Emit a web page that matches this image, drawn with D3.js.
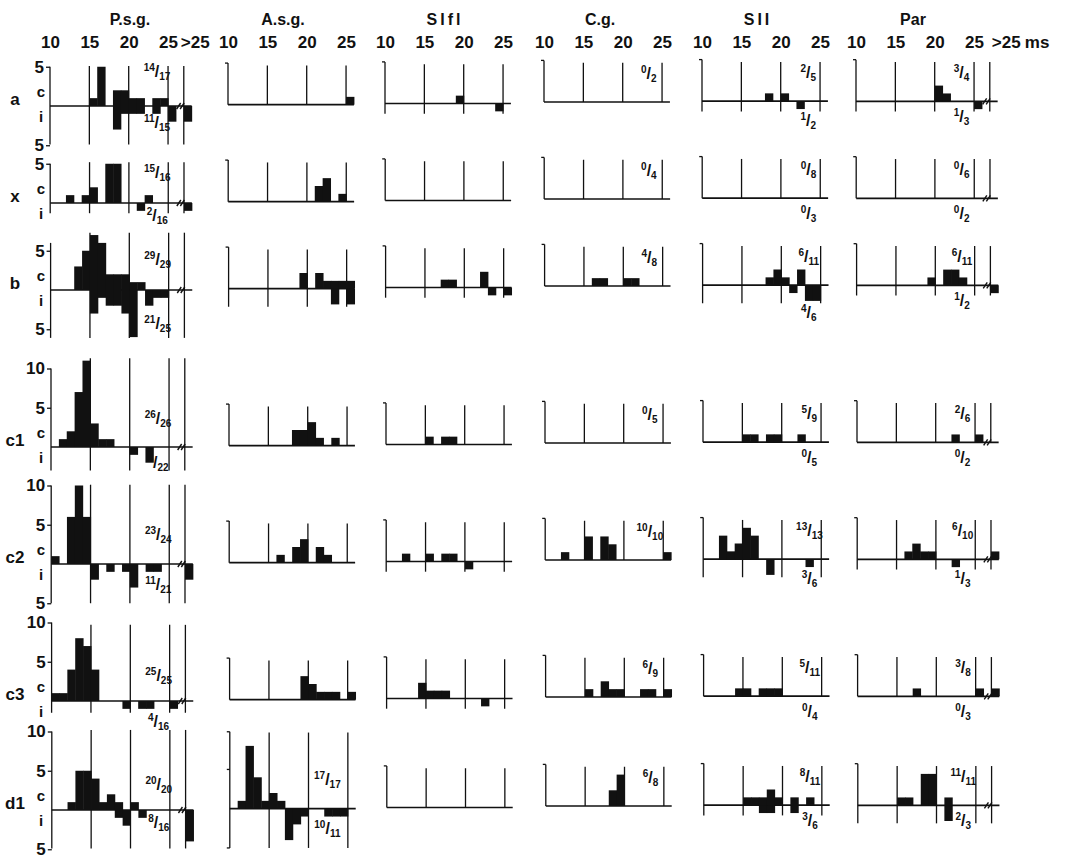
<!DOCTYPE html>
<html>
<head>
<meta charset="utf-8">
<script src="https://cdn.jsdelivr.net/npm/d3@7"></script>
<style>
  body { margin: 0; background: #fff; }
  svg { display: block; font-family: "Liberation Sans", Arial, sans-serif; }
</style>
</head>
<body>
<div id="chart"></div>
<script>
// columns and rows of the figure
const columns = ["P.s.g.", "A.s.g.", "SIfl", "C.g.", "SII", "Par"];
const rows = ["a", "x", "b", "c1", "c2", "c3", "d1"];
// bins: 10..25 ms (1 ms wide) and the >25 bin
const binLabels = ["10","11","12","13","14","15","16","17","18","19","20","21","22","23","24","25",">25"];
const headerTicks = [10, 15, 20, 25];

// P.s.g. y tick labels (c above, i below)
const psgUp = [[5], [5], [5], [10, 5], [10, 5], [10, 5], [10, 5]];
const psgDown = [[5], [], [5], [], [5], [], [5]];

// counts, one array per column: P.s.g., A.s.g., SIfl, C.g., SII, Par
const a_c = [
  [0,0,0,0,0,1,5,0,2,2,1,1,0,1,1,0,0],
  [0,0,0,0,0,0,0,0,0,0,0,0,0,0,0,1,0],
  [0,0,0,0,0,0,0,0,0,1,0,0,0,0,0,0,0],
  [0,0,0,0,0,0,0,0,0,0,0,0,0,0,0,0,0],
  [0,0,0,0,0,0,0,0,1,0,1,0,0,0,0,0,0],
  [0,0,0,0,0,0,0,0,0,0,2,1,0,0,0,0,0]
];
const a_i = [
  [0,0,0,0,0,0,0,0,3,1,1,1,0,1,0,2,2],
  [0,0,0,0,0,0,0,0,0,0,0,0,0,0,0,0,0],
  [0,0,0,0,0,0,0,0,0,0,0,0,0,0,1,0,0],
  [0,0,0,0,0,0,0,0,0,0,0,0,0,0,0,0,0],
  [0,0,0,0,0,0,0,0,0,0,0,0,1,0,0,0,0],
  [0,0,0,0,0,0,0,0,0,0,0,0,0,0,0,1,0]
];
const x_c = [
  [0,0,1,0,1,2,0,5,5,0,0,0,1,0,0,0,0],
  [0,0,0,0,0,0,0,0,0,0,0,2,3,0,1,0,0],
  [0,0,0,0,0,0,0,0,0,0,0,0,0,0,0,0,0],
  [0,0,0,0,0,0,0,0,0,0,0,0,0,0,0,0,0],
  [0,0,0,0,0,0,0,0,0,0,0,0,0,0,0,0,0],
  [0,0,0,0,0,0,0,0,0,0,0,0,0,0,0,0,0]
];
const x_i = [
  [0,0,0,0,0,0,0,0,0,0,0,1,0,0,0,0,1],
  [0,0,0,0,0,0,0,0,0,0,0,0,0,0,0,0,0],
  [0,0,0,0,0,0,0,0,0,0,0,0,0,0,0,0,0],
  [0,0,0,0,0,0,0,0,0,0,0,0,0,0,0,0,0],
  [0,0,0,0,0,0,0,0,0,0,0,0,0,0,0,0,0],
  [0,0,0,0,0,0,0,0,0,0,0,0,0,0,0,0,0]
];
const b_c = [
  [0,0,0,3,5,7,6,2,2,2,1,1,0,0,0,0,0],
  [0,0,0,0,0,0,0,0,0,2,0,2,1,1,1,1,0],
  [0,0,0,0,0,0,0,1,1,0,0,0,2,0,0,0,0],
  [0,0,0,0,0,0,1,1,0,0,1,1,0,0,0,0,0],
  [0,0,0,0,0,0,0,0,1,2,1,0,2,0,0,0,0],
  [0,0,0,0,0,0,0,0,0,1,0,2,2,1,0,0,0]
];
const b_i = [
  [0,0,0,0,0,3,1,2,2,3,6,0,2,1,1,0,0],
  [0,0,0,0,0,0,0,0,0,0,0,0,0,2,0,2,0],
  [0,0,0,0,0,0,0,0,0,0,0,0,0,1,0,1,0],
  [0,0,0,0,0,0,0,0,0,0,0,0,0,0,0,0,0],
  [0,0,0,0,0,0,0,0,0,0,0,1,0,2,2,0,0],
  [0,0,0,0,0,0,0,0,0,0,0,0,0,0,0,0,1]
];
const c1_c = [
  [0,1,2,7,11,3,1,1,0,0,0,0,0,0,0,0,0],
  [0,0,0,0,0,0,0,0,2,2,3,1,0,1,0,0,0],
  [0,0,0,0,0,1,0,1,1,0,0,0,0,0,0,0,0],
  [0,0,0,0,0,0,0,0,0,0,0,0,0,0,0,0,0],
  [0,0,0,0,0,1,1,0,1,1,0,0,1,0,0,0,0],
  [0,0,0,0,0,0,0,0,0,0,0,0,1,0,0,1,0]
];
const c1_i = [
  [0,0,0,0,0,0,0,0,0,0,1,0,2,0,0,0,0],
  [0,0,0,0,0,0,0,0,0,0,0,0,0,0,0,0,0],
  [0,0,0,0,0,0,0,0,0,0,0,0,0,0,0,0,0],
  [0,0,0,0,0,0,0,0,0,0,0,0,0,0,0,0,0],
  [0,0,0,0,0,0,0,0,0,0,0,0,0,0,0,0,0],
  [0,0,0,0,0,0,0,0,0,0,0,0,0,0,0,0,0]
];
const c2_c = [
  [1,0,6,10,6,0,0,0,0,0,0,0,0,0,0,0,0],
  [0,0,0,0,0,0,1,0,2,3,0,2,1,0,0,0,0],
  [0,0,1,0,0,1,0,1,1,0,0,0,0,0,0,0,0],
  [0,0,1,0,0,3,0,3,2,0,0,0,0,0,0,1,0],
  [0,0,3,1,2,4,3,0,0,0,0,0,0,0,0,0,0],
  [0,0,0,0,0,0,1,2,1,1,0,0,0,0,0,0,1]
];
const c2_i = [
  [0,0,0,0,0,2,0,1,0,1,3,0,1,1,0,0,2],
  [0,0,0,0,0,0,0,0,0,0,0,0,0,0,0,0,0],
  [0,0,0,0,0,0,0,0,0,0,1,0,0,0,0,0,0],
  [0,0,0,0,0,0,0,0,0,0,0,0,0,0,0,0,0],
  [0,0,0,0,0,0,0,0,2,0,0,0,0,1,0,0,0],
  [0,0,0,0,0,0,0,0,0,0,0,0,1,0,0,0,0]
];
const c3_c = [
  [1,1,4,8,7,4,0,0,0,0,0,0,0,0,0,0,0],
  [0,0,0,0,0,0,0,0,0,3,2,1,1,1,0,1,0],
  [0,0,0,0,2,1,1,1,0,0,0,0,0,0,0,0,0],
  [0,0,0,0,0,1,0,2,1,1,0,0,1,1,0,1,0],
  [0,0,0,0,1,1,0,1,1,1,0,0,0,0,0,0,0],
  [0,0,0,0,0,0,0,1,0,0,0,0,0,0,0,1,1]
];
const c3_i = [
  [0,0,0,0,0,0,0,0,0,1,0,1,1,0,0,1,0],
  [0,0,0,0,0,0,0,0,0,0,0,0,0,0,0,0,0],
  [0,0,0,0,0,0,0,0,0,0,0,0,1,0,0,0,0],
  [0,0,0,0,0,0,0,0,0,0,0,0,0,0,0,0,0],
  [0,0,0,0,0,0,0,0,0,0,0,0,0,0,0,0,0],
  [0,0,0,0,0,0,0,0,0,0,0,0,0,0,0,0,0]
];
const d1_c = [
  [0,0,1,5,5,4,1,2,1,0,1,0,0,0,0,0,0],
  [0,1,8,4,1,2,1,0,0,0,0,0,0,0,0,0,0],
  [0,0,0,0,0,0,0,0,0,0,0,0,0,0,0,0,0],
  [0,0,0,0,0,0,0,0,2,4,0,0,0,0,0,0,0],
  [0,0,0,0,0,1,1,1,2,1,0,1,0,1,0,0,0],
  [0,0,0,0,0,1,1,0,4,4,0,1,0,0,0,0,0]
];
const d1_i = [
  [0,0,0,0,0,0,0,0,1,2,0,1,0,0,0,0,4],
  [0,0,0,0,0,0,0,4,2,1,0,0,1,1,1,0,0],
  [0,0,0,0,0,0,0,0,0,0,0,0,0,0,0,0,0],
  [0,0,0,0,0,0,0,0,0,0,0,0,0,0,0,0,0],
  [0,0,0,0,0,0,0,1,1,0,0,1,0,0,0,0,0],
  [0,0,0,0,0,0,0,0,0,0,0,2,0,0,0,0,0]
];

// fractions written on each panel: [c, i]
const a_frac  = [["14/17","11/15"], ["",""], ["",""], ["0/2",""], ["2/5","1/2"], ["3/4","1/3"]];
const x_frac  = [["15/16","2/16"], ["",""], ["",""], ["0/4",""], ["0/8","0/3"], ["0/6","0/2"]];
const b_frac  = [["29/29","21/25"], ["",""], ["",""], ["4/8",""], ["6/11","4/6"], ["6/11","1/2"]];
const c1_frac = [["26/26","3/22"], ["",""], ["",""], ["0/5",""], ["5/9","0/5"], ["2/6","0/2"]];
const c2_frac = [["23/24","11/21"], ["",""], ["",""], ["10/10",""], ["13/13","3/6"], ["6/10","1/3"]];
const c3_frac = [["25/25","4/16"], ["",""], ["",""], ["6/9",""], ["5/11","0/4"], ["3/8","0/3"]];
const d1_frac = [["20/20","8/16"], ["17/17","10/11"], ["",""], ["6/8",""], ["8/11","3/6"], ["11/11","2/3"]];

const rowC = [a_c, x_c, b_c, c1_c, c2_c, c3_c, d1_c];
const rowI = [a_i, x_i, b_i, c1_i, c2_i, c3_i, d1_i];
const rowFrac = [a_frac, x_frac, b_frac, c1_frac, c2_frac, c3_frac, d1_frac];

// ---- layout ----
const width = 1068, height = 860;
const K = 7.87;   // px per ms
const U = 7.85;   // px per count
const colX0 = [50, 228, 385, 544, 702, 856];
const colDy = [0, -1.3, -2.5, -4, -4.8, -4.7];
const colTitleX = [130, 283, 445, 600, 758, 913];
const rowBase = [106, 203, 290, 447, 564, 701, 810];
const rowDx = [0, 0.2, 0.6, 1, 1.2, 1.6, 1.8];
const psgGridTop = [5.1, 5.2, 7.3, 11.3, 10.1, 9.7, 10.2];
const psgGridBot = [4.9, 1.3, 6.1, 3, 5, 1.5, 4.9];
const psgAxisTop = [5, 5, 6, 10, 10, 10, 10];
const psgFracC = [-34, -30, -30, -28, -29, -25, -25];
const psgFracI = [17, 13, 34, 16, 21, 21, 13];
const fracX = [23.6, 22.4, 23.3, 23.3, 23.5, 23.4];
const ink = "#111";

const binStart = i => i < 16 ? 10 + i : 27;

const svg = d3.select("#chart").append("svg")
  .attr("width", width).attr("height", height);
svg.append("rect").attr("width", width).attr("height", height).attr("fill", "#fff");

// column titles
svg.selectAll("text.title").data(columns).join("text")
  .attr("class", "title")
  .attr("x", (d, i) => colTitleX[i]).attr("y", 25)
  .attr("text-anchor", "middle")
  .attr("font-size", 16).attr("font-weight", "bold")
  .attr("letter-spacing", d => d.startsWith("SI") ? 3 : 0)
  .attr("fill", ink)
  .text(d => d);

// header ms ticks
columns.forEach((col, c) => {
  const x = d3.scaleLinear().domain([10, 28]).range([colX0[c], colX0[c] + 18 * K]);
  const ax = svg.append("g").attr("transform", "translate(0,48)")
    .call(d3.axisTop(x).tickValues(headerTicks).tickSize(0).tickPadding(0));
  ax.select(".domain").remove();
  ax.selectAll("text").attr("font-size", 17).attr("font-weight", "bold")
    .attr("fill", ink).attr("font-family", "Liberation Sans, Arial, sans-serif");
  if (c === 0 || c === 5) {
    svg.append("text").attr("x", x(27) - (c === 0 ? 3 : -2)).attr("y", 48)
      .attr("font-size", 17).attr("font-weight", "bold").attr("fill", ink)
      .text(">25");
  }
  if (c === 5) {
    svg.append("text").attr("x", x(27) + 35).attr("y", 48)
      .attr("font-size", 17).attr("font-weight", "bold").attr("fill", ink)
      .text("ms");
  }
});

function drawFraction(g, cx, cy, str) {
  const [n, d] = str.split("/");
  const t = g.append("text").attr("x", cx).attr("y", cy + 5)
    .attr("text-anchor", "middle").attr("font-weight", "bold").attr("fill", ink);
  t.append("tspan").attr("font-size", 10).attr("dy", -6).text(n);
  t.append("tspan").attr("font-size", 16).attr("dy", 6).text("/");
  t.append("tspan").attr("font-size", 10).attr("dy", 3).text(d);
}

rows.forEach((row, r) => {
  // row label
  svg.append("text").attr("x", 15).attr("y", rowBase[r] - 5)
    .attr("text-anchor", "middle").attr("dominant-baseline", "middle")
    .attr("font-size", 17).attr("font-weight", "bold").attr("fill", ink)
    .text(row);

  columns.forEach((col, c) => {
    const base = rowBase[r] + colDy[c];
    const x0 = colX0[c] + rowDx[r];
    const x = d3.scaleLinear().domain([10, 28]).range([x0, x0 + 18 * K]);
    const y = d3.scaleLinear().domain([0, 10]).range([base, base - 10 * U]);
    const cVals = rowC[r][c], iVals = rowI[r][c];
    const maxPos = d3.max(cVals), maxNeg = d3.max(iVals);
    const isPsg = c === 0, hasOver = c === 0 || c === 5;
    const g = svg.append("g");

    let gridTop, gridBot, axTop, axBot;
    if (isPsg) {
      gridTop = psgGridTop[r]; gridBot = psgGridBot[r];
      axTop = psgAxisTop[r]; axBot = psgGridBot[r];
    } else {
      gridTop = maxPos > 5 ? 9.7 : 5.0;
      axTop = maxPos > 5 ? 9.8 : 5.3;
      gridBot = maxNeg > 0 ? (maxNeg > 3 ? 5 : Math.max(1, maxNeg + 0.3)) : 0;
      axBot = gridBot;
    }

    const lineStyle = sel => sel.attr("stroke", ink).attr("stroke-width", 1.3).attr("fill", "none");

    // vertical lines at 15, 20, 25 (and 27 for >25)
    const gridVals = hasOver ? [15, 20, 25, 27] : [15, 20, 25];
    g.selectAll("line.grid").data(gridVals).join("line")
      .attr("x1", d => x(d)).attr("x2", d => x(d))
      .attr("y1", y(gridTop)).attr("y2", y(-gridBot))
      .call(lineStyle);

    // left axis
    g.append("line").attr("x1", x(10)).attr("x2", x(10))
      .attr("y1", y(axTop)).attr("y2", y(-axBot)).call(lineStyle);

    if (isPsg) {
      const tv = psgUp[r].concat(psgDown[r].map(v => -v));
      const ya = g.append("g").attr("transform", `translate(${x(10)},0)`)
        .call(d3.axisLeft(y).tickValues(tv).tickSize(4).tickPadding(2).tickFormat(v => Math.abs(v)));
      ya.select(".domain").remove();
      ya.selectAll("line").attr("stroke", ink).attr("stroke-width", 1.3);
      ya.selectAll("text").attr("font-size", 17).attr("font-weight", "bold")
        .attr("fill", ink).attr("font-family", "Liberation Sans, Arial, sans-serif");
      g.append("text").attr("x", 41).attr("y", base - 13)
        .attr("text-anchor", "middle").attr("dominant-baseline", "middle")
        .attr("font-size", 15).attr("font-weight", "bold").attr("fill", ink).text("c");
      g.append("text").attr("x", 41).attr("y", base + 12)
        .attr("text-anchor", "middle").attr("dominant-baseline", "middle")
        .attr("font-size", 15).attr("font-weight", "bold").attr("fill", ink).text("i");
    } else {
      // small hooks at the ends of the left axis
      const hooks = [axTop].concat(maxPos > 5 ? [5] : []).concat(axBot > 3 ? [-axBot] : []);
      g.selectAll("line.hook").data(hooks).join("line")
        .attr("x1", x(10) - 3).attr("x2", x(10))
        .attr("y1", d => y(d)).attr("y2", d => y(d))
        .call(lineStyle);
    }

    // baseline
    g.append("line").attr("x1", x(10)).attr("x2", x(hasOver ? 28 : 26))
      .attr("y1", base).attr("y2", base)
      .attr("stroke", ink).attr("stroke-width", 1.7);

    // break mark before >25
    if (hasOver) {
      const bx = x(26.6);
      [-2, 1.5].forEach(o => {
        g.append("line").attr("x1", bx + o - 2).attr("y1", base + 3)
          .attr("x2", bx + o + 2).attr("y2", base - 3)
          .attr("stroke", ink).attr("stroke-width", 1.4);
      });
    }

    // c bars (up) and i bars (down)
    const up = cVals.map((v, i) => ({ v, i })).filter(d => d.v > 0);
    const down = iVals.map((v, i) => ({ v, i })).filter(d => d.v > 0);
    g.selectAll("rect.c").data(up).join("rect")
      .attr("x", d => x(binStart(d.i)))
      .attr("width", d => x(binStart(d.i) + 1) - x(binStart(d.i)) + 0.5)
      .attr("y", d => y(d.v))
      .attr("height", d => y(0) - y(d.v))
      .attr("fill", ink);
    g.selectAll("rect.i").data(down).join("rect")
      .attr("x", d => x(binStart(d.i)))
      .attr("width", d => x(binStart(d.i) + 1) - x(binStart(d.i)) + 0.5)
      .attr("y", y(0))
      .attr("height", d => y(-d.v) - y(0))
      .attr("fill", ink);

    // fractions; the i label drops below any i bar under it
    const [fc, fi] = rowFrac[r][c];
    const fx = x(fracX[c]);
    const underNeg = d3.max(iVals.slice(12, 15));
    const iDy = isPsg ? psgFracI[r] : Math.max(16, underNeg * U + 12);
    if (fc) drawFraction(g, fx, base + (isPsg ? psgFracC[r] : -28.5), fc);
    if (fi) drawFraction(g, fx, base + iDy, fi);
  });
});
</script>
</body>
</html>
